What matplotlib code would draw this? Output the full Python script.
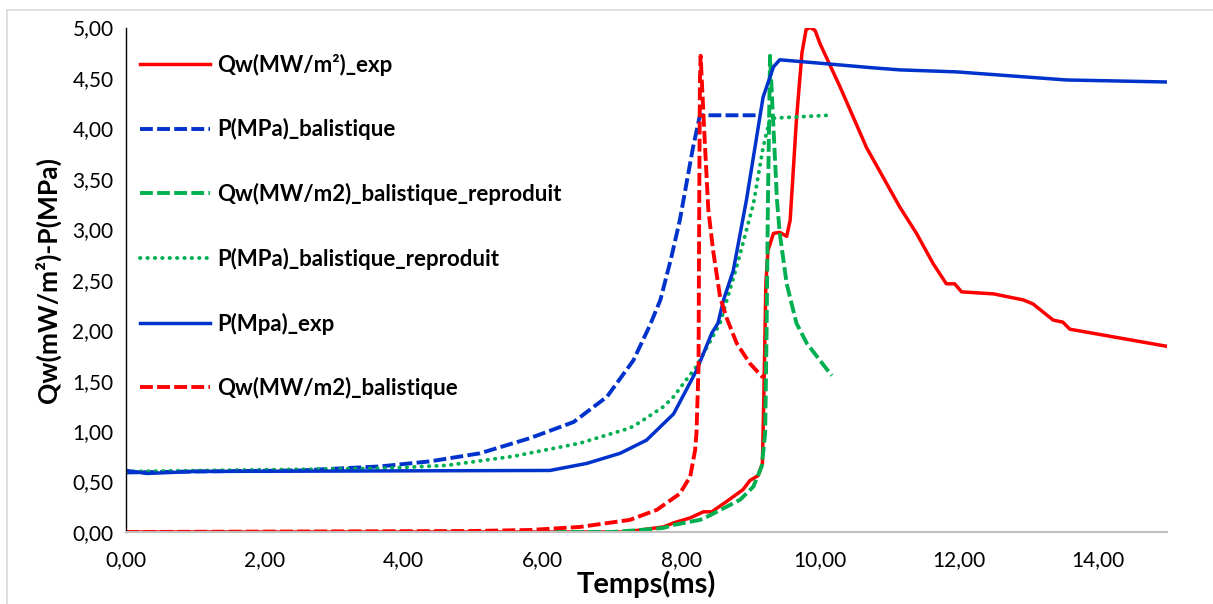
import matplotlib
matplotlib.use("Agg")
import matplotlib.pyplot as plt
from matplotlib.ticker import FuncFormatter, MultipleLocator
from matplotlib.lines import Line2D

# ---- data ----
t_qw_exp = [0, 7.2, 7.41, 7.74, 7.89, 8.13, 8.32, 8.44, 8.65, 8.89, 8.99, 9.11, 9.17, 9.19,
            9.22, 9.25, 9.33, 9.42, 9.52, 9.57, 9.66, 9.74, 9.80, 9.86, 9.93, 10.0, 10.29,
            10.67, 11.15, 11.39, 11.63, 11.82, 11.94, 12.04, 12.5, 12.93, 13.07, 13.36, 13.5,
            13.6, 15.0]
v_qw_exp = [0, 0.0, 0.02, 0.05, 0.09, 0.14, 0.20, 0.20, 0.30, 0.42, 0.51, 0.56, 0.68, 1.31,
            2.46, 2.79, 2.96, 2.97, 2.93, 3.09, 4.08, 4.75, 4.98, 5.0, 4.97, 4.84, 4.41,
            3.81, 3.22, 2.96, 2.66, 2.46, 2.46, 2.38, 2.36, 2.30, 2.26, 2.10, 2.08,
            2.01, 1.84]

t_p_bal = [0, 1, 2.5, 3.66, 4.38, 5.10, 5.82, 6.45, 6.93, 7.31, 7.55, 7.70, 7.85, 7.98, 8.17,
           8.27, 9.09]
v_p_bal = [0.59, 0.60, 0.61, 0.65, 0.70, 0.78, 0.93, 1.09, 1.34, 1.70, 2.05, 2.30, 2.70, 3.09,
           3.81, 4.13, 4.13]

t_qw_bal_rep = [0, 7.0, 7.41, 7.74, 7.89, 8.27, 8.37, 8.85, 9.04, 9.16, 9.21, 9.23, 9.25, 9.28,
                9.33, 9.38, 9.42, 9.52, 9.66, 9.81, 10.0, 10.17]
v_qw_bal_rep = [0, 0.0, 0.02, 0.04, 0.07, 0.12, 0.15, 0.32, 0.45, 0.65, 0.98, 1.97, 3.29, 4.72,
                4.0, 3.29, 2.96, 2.46, 2.07, 1.87, 1.70, 1.55]

t_p_bal_rep = [0, 3.66, 4.62, 5.58, 6.54, 7.26, 7.41, 7.74, 7.89, 8.03, 8.22, 8.56, 8.80, 9.04,
               9.18, 9.28, 10.12]
v_p_bal_rep = [0.60, 0.63, 0.66, 0.75, 0.88, 1.03, 1.09, 1.24, 1.34, 1.47, 1.64, 2.07, 2.63,
               3.25, 3.81, 4.10, 4.13]

t_p_exp = [0, 0.3, 1, 6.11, 6.64, 7.12, 7.5, 7.89, 8.22, 8.44, 8.53, 8.61, 8.75, 8.94, 9.18,
           9.33, 9.42, 10.1, 10.77, 11.15, 11.97, 13.55, 15.0]
v_p_exp = [0.61, 0.58, 0.60, 0.61, 0.68, 0.78, 0.91, 1.17, 1.60, 1.97, 2.07, 2.30, 2.59, 3.29,
           4.31, 4.61, 4.68, 4.64, 4.60, 4.58, 4.56, 4.48, 4.46]

t_qw_bal = [0, 5.0, 5.82, 6.54, 7.26, 7.65, 7.98, 8.13, 8.20, 8.22, 8.25, 8.26, 8.27, 8.28,
            8.33, 8.39, 8.46, 8.56, 8.65, 8.80, 8.99, 9.18]
v_qw_bal = [0, 0.01, 0.02, 0.05, 0.12, 0.22, 0.38, 0.55, 0.81, 0.98, 1.64, 3.29, 4.5, 4.72,
            4.0, 3.2, 2.79, 2.33, 2.13, 1.87, 1.67, 1.53]

labels = ["Qw(MW/m²)_exp", "P(MPa)_balistique", "Qw(MW/m2)_balistique_reproduit",
          "P(MPa)_balistique_reproduit", "P(Mpa)_exp", "Qw(MW/m2)_balistique"]

x_ticks = [0, 2, 4, 6, 8, 10, 12, 14]

RED = "#FF0000"
BLUE = "#0033CC"
GREEN = "#00B050"

plt.rcParams['font.family'] = ['Lato', 'DejaVu Sans']

fig = plt.figure(figsize=(12.13, 6.04), dpi=100)
ax = fig.add_axes([126/1213, 1-532/604, (1167-126)/1213, (532-27.5)/604])

lw = 2.5
lwd = 2.8
dash = (0, (3.3, 1.1))
ax.plot(t_qw_exp, v_qw_exp, color=RED, lw=lw, label=labels[0], solid_joinstyle='round')
ax.plot(t_p_bal, v_p_bal, color=BLUE, lw=lwd, ls=dash, label=labels[1])
ax.plot(t_qw_bal_rep, v_qw_bal_rep, color=GREEN, lw=lwd, ls=dash, label=labels[2])
ax.plot(t_p_bal_rep, v_p_bal_rep, color=GREEN, lw=lwd, ls=(0, (0.1, 1.8)),
        dash_capstyle='round', label=labels[3])
ax.plot(t_p_exp, v_p_exp, color=BLUE, lw=lw, label=labels[4], solid_joinstyle='round')
ax.plot(t_qw_bal, v_qw_bal, color=RED, lw=lwd, ls=dash, label=labels[5])

ax.set_xlim(0, 15)
ax.set_ylim(0, 5)
ax.set_xticks(x_ticks)
ax.yaxis.set_major_locator(MultipleLocator(0.5))
fmt = FuncFormatter(lambda v, p: f"{v:.2f}".replace('.', ','))
ax.xaxis.set_major_formatter(fmt)
ax.yaxis.set_major_formatter(fmt)
ax.tick_params(axis='both', length=0, labelsize=15, colors='#000000')
ax.tick_params(axis='x', pad=13)
ax.tick_params(axis='y', pad=9)

for s in ['top', 'right']:
    ax.spines[s].set_visible(False)
ax.spines['left'].set_color('#000000')
ax.spines['left'].set_linewidth(1.0)
ax.spines['bottom'].set_color('#BFBFBF')
ax.spines['bottom'].set_linewidth(1.5)

ax.set_xlabel("Temps(ms)", fontsize=21, fontweight='bold', labelpad=0)
ax.set_ylabel("Qw(mW/m²)-P(MPa)", fontsize=19, fontweight='bold', labelpad=8)

leg = ax.legend(loc='upper left', bbox_to_anchor=(0.005, 0.966), frameon=False,
                prop={'weight': 'bold', 'size': 16}, handlelength=3.15,
                handletextpad=0.32, labelspacing=1.92, borderaxespad=0)

# chart area border (top and left only visible)
fig.add_artist(Line2D([7/1213, 1], [1-10/604, 1-10/604], color='#D9D9D9', lw=1.2,
                      transform=fig.transFigure))
fig.add_artist(Line2D([7/1213, 7/1213], [0, 1-10/604], color='#D9D9D9', lw=1.2,
                      transform=fig.transFigure))

fig.savefig("out.png", dpi=100)
